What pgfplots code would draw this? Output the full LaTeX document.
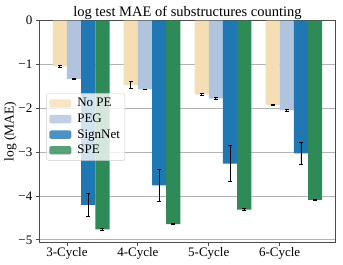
\documentclass[border=0pt]{standalone}
\usepackage{fontspec}
\setmainfont{Liberation Serif}
\usepackage{pgfplots}
\pgfplotsset{compat=1.18}
\definecolor{nope}{HTML}{F5DEB3}
\definecolor{peg}{HTML}{B0C4DE}
\definecolor{signnet}{HTML}{1F77B4}
\definecolor{spe}{HTML}{2E8B57}
\begin{document}
\begin{tikzpicture}[font=\fontsize{13}{15}\selectfont]
\begin{axis}[
  at={(0,0)}, anchor=south west,
  scale only axis, width=296.4pt, height=221.3pt,
  xmin=-0.39, xmax=3.79, ymin=-5.05, ymax=0,
  xtick={0,1,2,3}, xticklabels={3-Cycle,4-Cycle,5-Cycle,6-Cycle},
  ytick={-5,-4,-3,-2,-1,0}, yticklabels={−5,−4,−3,−2,−1,0},
  tick label style={font=\fontsize{13}{15}\selectfont},
  xticklabel style={yshift=1.5pt},
  tick align=outside, tick pos=left, major tick length=3.5pt,
  tick style={black!70, line width=0.8pt},
  ymajorgrids, grid style={black!30, line width=0.8pt},
  axis line style={black!70, line width=0.8pt},
  every axis title shift=0pt,
  title={log test MAE of substructures counting},
  title style={at={(axis description cs:0.5,1)}, anchor=base, inner sep=0pt, yshift=4.5pt, font=\fontsize{14.5}{17}\selectfont},
  ylabel={log (MAE)},
  ylabel style={at={(axis description cs:-0.0651,0.5)}, anchor=south, font=\fontsize{13.5}{16}\selectfont},
  legend style={at={(0.023,0.672)}, anchor=north west, fill=white, fill opacity=0.8, text opacity=1, draw=black!20, rounded corners=2pt, font=\fontsize{13}{15}\selectfont, row sep=1.5pt, column sep=4pt, inner xsep=3pt, inner ysep=3pt},
  legend cell align=left,
  legend image code/.code={\fill[#1] (0pt,-4.2pt) rectangle (22pt,4.2pt);},
  error bars/y dir=both, error bars/y explicit,
  error bars/error bar style={black, line width=0.9pt},
  error bars/error mark options={rotate=90, mark size=2pt, line width=0.9pt, black},
]
\addplot[ybar, bar width=0.2, bar shift=0pt, fill=nope, draw=none] coordinates {
  (-0.1,-1.04) +- (0,0.03)
  (0.9,-1.47) +- (0,0.08)
  (1.9,-1.68) +- (0,0.02)
  (2.9,-1.92) +- (0,0.015)
};
\addlegendentry{No PE}
\addplot[ybar, bar width=0.2, bar shift=0pt, fill=peg, draw=none] coordinates {
  (0.1,-1.33) +- (0,0.01)
  (1.1,-1.57) +- (0,0.01)
  (2.1,-1.78) +- (0,0.02)
  (3.1,-2.04) +- (0,0.02)
};
\addlegendentry{PEG}
\addplot[ybar, bar width=0.2, bar shift=0pt, fill=signnet, draw=none] coordinates {
  (0.3,-4.20) +- (0,0.26)
  (1.3,-3.76) +- (0,0.37)
  (2.3,-3.26) +- (0,0.41)
  (3.3,-3.03) +- (0,0.25)
};
\addlegendentry{SignNet}
\addplot[ybar, bar width=0.2, bar shift=0pt, fill=spe, draw=none] coordinates {
  (0.5,-4.76) +- (0,0.03)
  (1.5,-4.64) +- (0,0.02)
  (2.5,-4.31) +- (0,0.02)
  (3.5,-4.09) +- (0,0.02)
};
\addlegendentry{SPE}
\end{axis}
\pgfresetboundingbox
\useasboundingbox (-39.3pt,-23pt) rectangle (303.7pt,242pt);
\end{tikzpicture}
\end{document}
